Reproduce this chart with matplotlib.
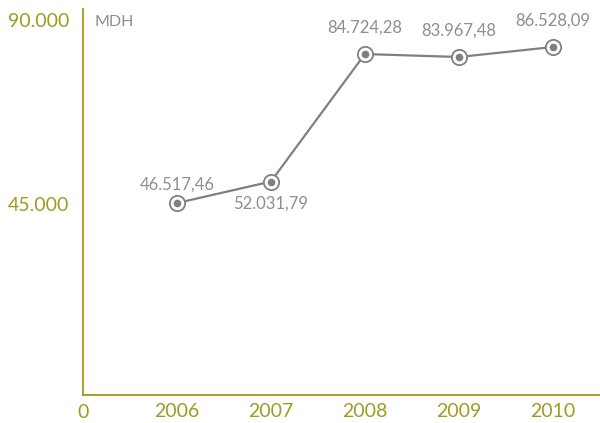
import matplotlib.pyplot as plt
import matplotlib
from matplotlib.transforms import ScaledTranslation

matplotlib.rcParams['font.family'] = ['Lato', 'DejaVu Sans']

# Data
years = [2006, 2007, 2008, 2009, 2010]
values = [46517.46, 52031.79, 84724.28, 83967.48, 86528.09]
value_labels = ['46.517,46', '52.031,79', '84.724,28', '83.967,48', '86.528,09']
y_ticks = [45000, 90000]
y_tick_labels = ['45.000', '90.000']
unit = 'MDH'

olive = '#a09a1f'
gray = '#808080'
text_gray = '#8e8e8e'

fig = plt.figure(figsize=(6, 4.23), dpi=100)
ax = fig.add_axes([0.138, 0.066, 0.862, 0.913])

ax.plot(years, values, color=gray, linewidth=1.6, zorder=2)
ax.plot(years, values, linestyle='none', marker='o', markersize=11,
        markerfacecolor='white', markeredgecolor=gray, markeredgewidth=1.3, zorder=3)
ax.plot(years, values, linestyle='none', marker='o', markersize=4.5,
        color=gray, zorder=4)

# value labels: 2007 sits below its point, others above
label_offsets = [13, -16, 19, 19, 19]
for x, v, lab, dy in zip(years, values, value_labels, label_offsets):
    ax.annotate(lab, (x, v), xytext=(0, dy), textcoords='offset points',
                ha='center', va='center', color=text_gray, fontsize=12)

ax.set_xlim(2005, 2010.5)
ax.set_ylim(-2700, 96300)

ax.set_xticks(years)
ax.set_xticklabels([str(y) for y in years])
ax.set_yticks(y_ticks)
ax.set_yticklabels(y_tick_labels)
ax.tick_params(axis='both', length=0, colors=olive, labelsize=14)
ax.tick_params(axis='x', pad=6)
ax.tick_params(axis='y', pad=10)

# nudge the y labels upwards like the original
for lbl, shift in zip(ax.get_yticklabels(), [5, 13]):
    lbl.set_transform(lbl.get_transform() + ScaledTranslation(0, shift / 100, fig.dpi_scale_trans))

# zero label below the origin
ax.text(0, -0.022, '0', transform=ax.transAxes, ha='center', va='top',
        color=olive, fontsize=14)
ax.text(0.022, 0.985, unit, transform=ax.transAxes, ha='left', va='top',
        color=text_gray, fontsize=11.5)

for side in ['top', 'right']:
    ax.spines[side].set_visible(False)
for side in ['left', 'bottom']:
    ax.spines[side].set_color(olive)
    ax.spines[side].set_linewidth(1.3)

plt.savefig('out.png', dpi=100)
